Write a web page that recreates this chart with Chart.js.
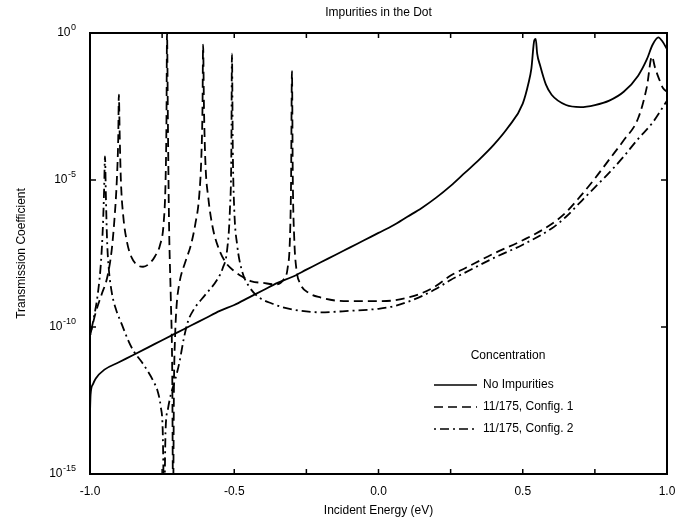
<!DOCTYPE html>
<html>
<head>
<meta charset="utf-8">
<title>Impurities in the Dot</title>
<script src="https://cdn.jsdelivr.net/npm/chart.js@4.4.0/dist/chart.umd.min.js"></script>
<style>
  html, body { margin: 0; padding: 0; background: #fff; }
  #wrap { position: relative; width: 683px; height: 524px; }
</style>
</head>
<body>
<div id="wrap"><canvas id="tcChart" width="683" height="524"></canvas></div>
<script>
// energies in eV, transmission given as log10
var xNoImp = [-1.0, -0.998, -0.99, -0.98, -0.95, -0.9, -0.85, -0.8, -0.75, -0.7, -0.65, -0.6, -0.55, -0.5,
  -0.45, -0.4, -0.35, -0.3, -0.25, -0.2, -0.15, -0.1, -0.05, 0.0, 0.05, 0.1, 0.15, 0.2, 0.25, 0.3, 0.35,
  0.4, 0.45, 0.5, 0.52, 0.53, 0.54, 0.545, 0.55, 0.56, 0.58, 0.6, 0.65, 0.7, 0.75, 0.8, 0.85, 0.9, 0.93,
  0.95, 0.97, 0.985, 1.0];
var logNoImp = [-12.9, -12.3, -11.95, -11.75, -11.45, -11.2, -10.95, -10.7, -10.45, -10.2, -9.95, -9.7, -9.45, -9.25,
  -9.0, -8.75, -8.5, -8.3, -8.05, -7.8, -7.55, -7.3, -7.05, -6.8, -6.55, -6.25, -5.95, -5.6, -5.2, -4.75, -4.3,
  -3.8, -3.2, -2.4, -1.7, -1.2, -0.25, -0.2, -0.7, -1.1, -1.75, -2.1, -2.45, -2.52, -2.45, -2.3, -2.0, -1.45, -0.9,
  -0.4, -0.15, -0.3, -0.55];

var xConf1 = [-1.0, -0.98, -0.96, -0.94, -0.925, -0.915, -0.907, -0.902, -0.9, -0.897, -0.893, -0.885, -0.872,
  -0.855, -0.835, -0.816, -0.795, -0.775, -0.757, -0.745, -0.738, -0.735, -0.733, -0.73, -0.726, -0.72, -0.715,
  -0.712, -0.709, -0.705, -0.7, -0.69, -0.67, -0.65, -0.635, -0.622, -0.614, -0.61, -0.608, -0.605, -0.6, -0.59,
  -0.575, -0.555, -0.53, -0.5, -0.47, -0.44, -0.4, -0.36, -0.33, -0.315, -0.307, -0.303, -0.3, -0.297, -0.292,
  -0.285, -0.27, -0.24, -0.2, -0.15, -0.1, -0.05, 0.0, 0.05, 0.1, 0.15, 0.2, 0.25, 0.3, 0.4, 0.5, 0.6, 0.65,
  0.7, 0.75, 0.8, 0.85, 0.9, 0.93, 0.948, 0.958, 0.972, 0.986, 1.0];
var logConf1 = [-10.3, -9.5, -8.9, -8.3, -7.4, -6.3, -5.0, -3.5, -2.1, -3.5, -5.0, -6.2, -7.1,
  -7.65, -7.9, -7.95, -7.85, -7.6, -7.2, -6.5, -5.0, -3.0, 0.0, -3.0, -6.5, -9.0, -11.5,
  -16, -12.0, -10.3, -9.3, -8.5, -7.8, -7.2, -6.5, -5.6, -4.2, -2.5, -0.4, -2.5, -4.4, -5.6,
  -6.6, -7.3, -7.8, -8.1, -8.3, -8.45, -8.5, -8.55, -8.4, -8.0, -7.0, -5.0, -1.3, -5.0, -7.0,
  -8.0, -8.55, -8.85, -9.0, -9.1, -9.12, -9.12, -9.12, -9.1, -9.0, -8.85, -8.6, -8.25, -8.0, -7.5, -7.05, -6.5, -6.1,
  -5.55, -4.95, -4.3, -3.65, -2.9, -1.84, -0.8, -1.16, -1.55, -1.87, -2.0];

var xConf2 = [-1.0, -0.985, -0.972, -0.962, -0.955, -0.951, -0.948, -0.945, -0.941, -0.935, -0.925, -0.91, -0.89,
  -0.87, -0.85, -0.82, -0.8, -0.78, -0.765, -0.755, -0.748, -0.743, -0.738, -0.73, -0.72, -0.705, -0.69, -0.675,
  -0.66, -0.64, -0.6, -0.56, -0.54, -0.525, -0.515, -0.51, -0.508, -0.505, -0.5, -0.49, -0.473, -0.45, -0.42,
  -0.37, -0.3, -0.2, -0.1, 0.0, 0.05, 0.1, 0.15, 0.2, 0.25, 0.3, 0.4, 0.5, 0.6, 0.65, 0.7, 0.75, 0.8, 0.85,
  0.9, 0.95, 1.0];
var logConf2 = [-10.3, -9.6, -8.8, -7.8, -6.5, -5.3, -4.2, -5.5, -7.0, -8.0, -8.8, -9.4, -9.9,
  -10.4, -10.8, -11.2, -11.5, -11.85, -12.2, -12.7, -13.5, -16, -13.5, -12.8, -12.3, -11.8, -11.2, -10.4,
  -9.8, -9.4, -8.9, -8.4, -8.0, -7.4, -6.0, -4.0, -0.7, -4.0, -6.0, -7.2, -8.1, -8.6, -8.95,
  -9.2, -9.4, -9.5, -9.45, -9.38, -9.3, -9.15, -8.95, -8.7, -8.4, -8.15, -7.65, -7.2, -6.65, -6.25, -5.75, -5.25, -4.75, -4.2,
  -3.6, -3.05, -2.3];

var seriesNames = ['No Impurities', '11/175, Config. 1', '11/175, Config. 2'];

var xTickVals = [-1, -0.75, -0.5, -0.25, 0, 0.25, 0.5, 0.75, 1];
var xLabelVals = [-1, -0.5, 0, 0.5, 1];
var xLabelText = ['-1.0', '-0.5', '0.0', '0.5', '1.0'];
var yTickVals = [1, 1e-5, 1e-10, 1e-15];
var yTickBase = ['10', '10', '10', '10'];
var yTickExp = ['0', '-5', '-10', '-15'];

var FONT = '"Liberation Sans", Arial, Helvetica, sans-serif';

function toPoints(xs, logs) {
  var out = [];
  for (var i = 0; i < xs.length; i++) {
    out.push({ x: xs[i], y: Math.pow(10, logs[i]) });
  }
  return out;
}

// box around the plot, inward ticks, power-of-ten labels, title and the in-plot legend
var frameAndLegend = {
  id: 'frameAndLegend',
  afterDraw: function (chart) {
    var a = chart.chartArea, ctx = chart.ctx;
    var xs = chart.scales.x, ys = chart.scales.y;
    ctx.save();
    ctx.strokeStyle = '#000';
    ctx.lineWidth = 1.5;
    ctx.beginPath();
    xs.ticks.forEach(function (t) {
      var px = xs.getPixelForValue(t.value);
      ctx.moveTo(px, a.bottom); ctx.lineTo(px, a.bottom - 5);
      ctx.moveTo(px, a.top); ctx.lineTo(px, a.top + 5);
    });
    ys.ticks.forEach(function (t) {
      var py = ys.getPixelForValue(t.value);
      ctx.moveTo(a.left, py); ctx.lineTo(a.left + 6, py);
      ctx.moveTo(a.right, py); ctx.lineTo(a.right - 6, py);
    });
    ctx.stroke();
    ctx.lineWidth = 2;
    ctx.strokeRect(a.left, a.top, a.right - a.left, a.bottom - a.top);

    ctx.fillStyle = '#000';
    ctx.textBaseline = 'middle';

    // y labels: 10 with a raised exponent
    ys.ticks.forEach(function (t) {
      var k = yTickVals.indexOf(t.value);
      if (k < 0) return;
      var py = ys.getPixelForValue(t.value);
      ctx.font = '9px ' + FONT;
      var ew = ctx.measureText(yTickExp[k]).width;
      ctx.textAlign = 'left';
      var right = a.left - 14;
      ctx.fillText(yTickExp[k], right - ew, py - 5);
      ctx.font = '12px ' + FONT;
      ctx.textAlign = 'right';
      ctx.fillText(yTickBase[k], right - ew - 0.5, py);
    });

    ctx.font = '12px ' + FONT;
    ctx.textAlign = 'center';
    ctx.fillText('Impurities in the Dot', (a.left + a.right) / 2, 13);

    // legend
    var lx = a.left + 344, ty = a.top + 323;
    ctx.fillText('Concentration', lx + 74, ty);
    ctx.textAlign = 'left';
    chart.data.datasets.forEach(function (ds, i) {
      var y = ty + 29 + i * 22;
      ctx.beginPath();
      ctx.setLineDash(ds.borderDash || []);
      ctx.lineWidth = 1.7;
      ctx.moveTo(lx, y); ctx.lineTo(lx + 43, y);
      ctx.stroke();
      ctx.setLineDash([]);
      ctx.fillText(ds.label, lx + 49, y);
    });
    ctx.restore();
  }
};

var ctx = document.getElementById('tcChart');
var tcChart = new Chart(ctx, {
  type: 'line',
  data: {
    datasets: [
      { label: seriesNames[0], data: toPoints(xNoImp, logNoImp), borderColor: '#000', borderWidth: 1.8, borderDash: [] },
      { label: seriesNames[1], data: toPoints(xConf1, logConf1), borderColor: '#000', borderWidth: 1.8, borderDash: [9, 5] },
      { label: seriesNames[2], data: toPoints(xConf2, logConf2), borderColor: '#000', borderWidth: 1.8, borderDash: [2, 4, 9, 4] }
    ]
  },
  options: {
    responsive: false,
    animation: false,
    devicePixelRatio: 1,
    layout: { padding: { top: 33, right: 16, left: 0, bottom: 0 } },
    elements: {
      point: { radius: 0 },
      line: { cubicInterpolationMode: 'monotone', fill: false }
    },
    plugins: {
      legend: { display: false },
      title: { display: false },
      tooltip: { enabled: false }
    },
    scales: {
      x: {
        type: 'linear',
        min: -1, max: 1,
        grid: { display: false },
        border: { display: false },
        afterBuildTicks: function (s) { s.ticks = xTickVals.map(function (v) { return { value: v }; }); },
        afterFit: function (s) { s.height = 50; },
        ticks: {
          autoSkip: false, maxRotation: 0, padding: 2,
          color: '#000', font: { size: 12, family: FONT },
          callback: function (v) {
            var k = xLabelVals.indexOf(v);
            return k < 0 ? '' : xLabelText[k];
          }
        },
        title: {
          display: true, text: 'Incident Energy (eV)', color: '#000',
          font: { size: 12, family: FONT }, padding: { top: 0, bottom: 6 }
        }
      },
      y: {
        type: 'logarithmic',
        min: 1e-15, max: 1,
        grid: { display: false },
        border: { display: false },
        afterBuildTicks: function (s) { s.ticks = yTickVals.map(function (v) { return { value: v }; }); },
        afterFit: function (s) { s.width = 90; },
        ticks: { display: false },
        title: {
          display: true, text: 'Transmission Coefficient', color: '#000',
          font: { size: 12, family: FONT }, padding: { top: 14, bottom: 0 }
        }
      }
    }
  },
  plugins: [frameAndLegend]
});
</script>
</body>
</html>
